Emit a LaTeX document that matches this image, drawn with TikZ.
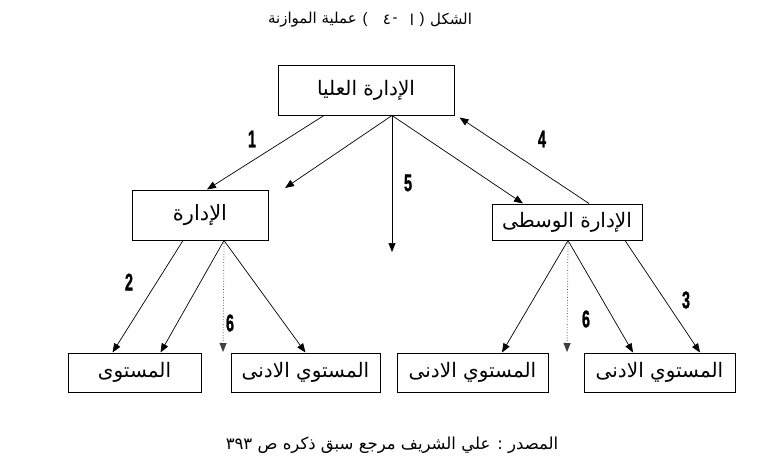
\documentclass[tikz,border=0pt]{standalone}
\usepackage{fontspec}
\setmainfont{Liberation Sans}
\newfontfamily\ar[Script=Arabic]{DejaVu Sans}
\newfontfamily\numfont{Liberation Sans}[BoldFeatures={FakeBold=1.5}]
\TeXXeTstate=1
\usetikzlibrary{arrows.meta}
\tikzset{
  box/.style={draw, line width=1pt, inner sep=0pt, align=center},
  arr/.style={-{Triangle[length=9pt,width=7pt]}, line width=0.7pt},
  dotarr/.style={arr, dotted, line width=0.8pt, draw=black!75},
  num/.style={inner sep=0pt, font=\numfont\fontsize{24}{24}\selectfont\bfseries},
  btext/.style={font=\ar\fontsize{20}{22}\selectfont},
  ttext/.style={inner sep=0pt, font=\fontsize{15}{17}\selectfont},
  ttextar/.style={inner sep=0pt, font=\ar\fontsize{15}{17}\selectfont}
}
\newcommand{\nlab}[1]{\scalebox{0.6}[1]{#1}}
\begin{document}
\begin{tikzpicture}[x=1pt,y=-1pt]
\useasboundingbox (0,0) rectangle (783,466);
\fill[white] (0,0) rectangle (783,466);

% title (pieces laid out left to right as printed)
\node[ttextar, anchor=east] (titleB) at (357,20) {\beginR عملية الموازنة\endR};
\node[ttext] (titleP1) at (365,20) {(};
\node[ttextar] (titleN) at (387,20) {٤};
\node[ttext] (titleD) at (395,20) {-};
\node[ttextar] (titleA) at (412,20) {ا};
\node[ttext] (titleP2) at (422,20) {)};
\node[ttextar, anchor=west] (titleF) at (430,20) {\beginR الشكل\endR};

% source
\node[inner sep=0pt, font=\ar\fontsize{16.5}{18}\selectfont] (src) at (392,445)
  {\beginR المصدر : علي الشريف مرجع سبق ذكره ص ٣٩٣\endR};

% boxes
\node[box, minimum width=176, minimum height=50, btext] (top) at (366,90) {\beginR الإدارة العليا\endR};
\node[box, minimum width=136, minimum height=50, btext, font=\ar\fontsize{21}{22}\selectfont] (L) at (200,215) {\raisebox{3pt}{\beginR الإدارة\endR}};
\node[box, minimum width=150, minimum height=36, btext] (R) at (567,222) {\beginR الإدارة الوسطى\endR};
\node[box, minimum width=133, minimum height=39, btext] (b1) at (134.5,372.5) {\beginR المستوى\endR};
\node[box, minimum width=149, minimum height=39, btext] (b2) at (305.5,372.5) {\beginR المستوي الادنى\endR};
\node[box, minimum width=151, minimum height=39, btext] (b3) at (472.5,372.5) {\beginR المستوي الادنى\endR};
\node[box, minimum width=151, minimum height=39, btext] (b4) at (659.5,372.5) {\beginR المستوي الادنى\endR};

% connection points
\coordinate (t1) at ([xshift=-42pt]top.south);
\coordinate (t2) at ([xshift=26pt]top.south);
\coordinate (c1) at (285,188);
\coordinate (c5) at (392,252);
\coordinate (l1) at ([xshift=-17pt]L.south);
\coordinate (l2) at ([xshift=24pt]L.south);
\coordinate (c6) at (223,352);
\coordinate (r1) at ([xshift=1pt]R.south);
\coordinate (r2) at ([xshift=58pt]R.south);
\coordinate (c7) at (567,352);

% arrows from top management
\draw[arr] (t1) -- ([xshift=7pt]L.north);
\draw[arr] (t2) -- (c1);
\draw[arr] (t2) -- (c5);
\draw[arr] (t2) -- ([xshift=-44pt]R.north);
\draw[arr] ([xshift=22pt]R.north) -- ([shift={(5,2)}]top.south east);

% arrows from left middle box
\draw[arr] (l1) -- ([xshift=-22pt]b1.north);
\draw[arr] (l2) -- ([xshift=26pt]b1.north);
\draw[dotarr] (l2) -- (c6);
\draw[arr] (l2) -- (b2.north);

% arrows from right middle box
\draw[arr] (r1) -- ([xshift=29.5pt]b3.north);
\draw[dotarr] (r1) -- (c7);
\draw[arr] (r1) -- ([xshift=-26.5pt]b4.north);
\draw[arr] (r2) -- ([xshift=40.5pt]b4.north);

% number labels
\node[num] (n1) at (252,139) {\nlab{1}};
\node[num] (n5) at (408,183) {\nlab{5}};
\node[num] (n4) at (542,139) {\nlab{4}};
\node[num] (n2) at (129,282) {\nlab{2}};
\node[num] (n6a) at (230,323) {\nlab{6}};
\node[num] (n6b) at (586,319) {\nlab{6}};
\node[num] (n3) at (686,300) {\nlab{3}};
\end{tikzpicture}
\end{document}
